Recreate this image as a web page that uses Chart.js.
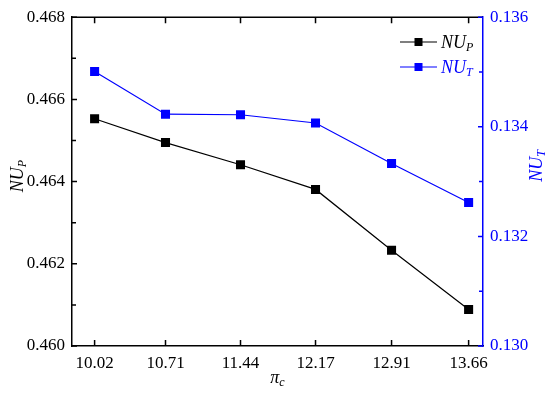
<!DOCTYPE html>
<html>
<head>
<meta charset="utf-8">
<script src="https://cdn.jsdelivr.net/npm/chart.js@4.4.0/dist/chart.umd.min.js"></script>
<style>
html, body { margin: 0; padding: 0; background: #fff; }
#wrap { width: 550px; height: 394px; }
</style>
</head>
<body>
<div id="wrap"><canvas id="nuChart"></canvas></div>
<script>
// values
const piC = [10.02, 10.71, 11.44, 12.17, 12.91, 13.66];
const piCLabels = ['10.02', '10.71', '11.44', '12.17', '12.91', '13.66'];
const nuP = [0.46553, 0.46495, 0.46441, 0.46381, 0.46233, 0.46089];
const nuT = [0.13501, 0.13423, 0.13422, 0.13407, 0.13333, 0.13262];
const nuPTicks = [0.460, 0.462, 0.464, 0.466, 0.468];
const nuTTicks = [0.130, 0.132, 0.134, 0.136];

const SERIF = "'Liberation Serif', 'Times New Roman', serif";
const BLUE = '#0000ff';

// text with a subscript, optionally rotated
function drawSub(ctx, main, sub, x, y, color, rotate) {
    ctx.save();
    ctx.translate(x, y);
    if (rotate) ctx.rotate(-Math.PI / 2);
    ctx.fillStyle = color;
    ctx.textBaseline = 'alphabetic';
    ctx.font = 'italic 18px ' + SERIF;
    const w1 = ctx.measureText(main).width;
    ctx.font = 'italic 12px ' + SERIF;
    const w2 = ctx.measureText(sub).width;
    const start = -(w1 + w2) / 2;
    ctx.font = 'italic 18px ' + SERIF;
    ctx.fillText(main, start, 6);
    ctx.font = 'italic 12px ' + SERIF;
    ctx.fillText(sub, start + w1, 9);
    ctx.restore();
}

const framePlugin = {
    id: 'frame',
    afterDraw(chart) {
        const ctx = chart.ctx;
        const a = chart.chartArea;
        const x = chart.scales.x, y = chart.scales.y, y1 = chart.scales.y1;
        ctx.save();
        ctx.lineWidth = 1.5;
        // top border
        ctx.strokeStyle = '#000';
        ctx.beginPath();
        ctx.moveTo(a.left, a.top);
        ctx.lineTo(a.right, a.top);
        ctx.stroke();
        // inward ticks
        ctx.beginPath();
        for (let i = 0; i <= 8; i++) {
            const py = y.getPixelForValue(0.460 + i * 0.001);
            ctx.moveTo(a.left, py);
            ctx.lineTo(a.left + (i % 2 ? 4 : 5), py);
        }
        piC.forEach(v => {
            const px = x.getPixelForValue(v);
            ctx.moveTo(px, a.bottom);
            ctx.lineTo(px, a.bottom - 6);
            ctx.moveTo(px, a.top);
            ctx.lineTo(px, a.top + 6);
        });
        ctx.stroke();
        ctx.strokeStyle = BLUE;
        ctx.beginPath();
        for (let i = 0; i <= 6; i++) {
            const py = y1.getPixelForValue(0.130 + i * 0.001);
            ctx.moveTo(a.right, py);
            ctx.lineTo(a.right - (i % 2 ? 4 : 5), py);
        }
        ctx.stroke();

        // axis titles
        drawSub(ctx, 'NU', 'P', 17, 176, '#000', true);
        drawSub(ctx, 'NU', 'T', 536, 166, BLUE, true);
        drawSub(ctx, '\u03c0', 'c', (a.left + a.right) / 2, 377, '#000', false);

        // legend
        const rows = [
            { sub: 'P', color: '#000', y: 42 },
            { sub: 'T', color: BLUE, y: 67 }
        ];
        rows.forEach(r => {
            ctx.strokeStyle = r.color;
            ctx.lineWidth = 1.2;
            ctx.beginPath();
            ctx.moveTo(400, r.y);
            ctx.lineTo(437, r.y);
            ctx.stroke();
            ctx.fillStyle = r.color;
            ctx.fillRect(414.5, r.y - 4, 8, 8);
            ctx.textBaseline = 'alphabetic';
            ctx.font = 'italic 18px ' + SERIF;
            ctx.fillText('NU', 441, r.y + 6);
            const w = ctx.measureText('NU').width;
            ctx.font = 'italic 12px ' + SERIF;
            ctx.fillText(r.sub, 441 + w, r.y + 9);
        });
        ctx.restore();
    }
};

function initializeChart() {
    const ctx = document.getElementById('nuChart').getContext('2d');
    const data = {
        datasets: [{
            label: 'NUP',
            data: piC.map((v, i) => ({ x: v, y: nuP[i] })),
            yAxisID: 'y',
            borderColor: '#000',
            backgroundColor: '#000',
            borderWidth: 1.2,
            pointStyle: 'rect',
            pointRadius: 6.4,
            pointBorderWidth: 0
        }, {
            label: 'NUT',
            data: piC.map((v, i) => ({ x: v, y: nuT[i] })),
            yAxisID: 'y1',
            borderColor: BLUE,
            backgroundColor: BLUE,
            borderWidth: 1.2,
            pointStyle: 'rect',
            pointRadius: 6.4,
            pointBorderWidth: 0
        }]
    };
    const tickFont = { family: SERIF, size: 17 };
    new Chart(ctx, {
        type: 'line',
        data: data,
        plugins: [framePlugin],
        options: {
            responsive: true,
            maintainAspectRatio: false,
            animation: false,
            layout: { padding: { top: 13, left: 0, right: 0, bottom: 0 } },
            plugins: {
                legend: { display: false },
                tooltip: { enabled: false }
            },
            scales: {
                x: {
                    type: 'linear',
                    min: 9.8,
                    max: 13.8,
                    afterBuildTicks: s => { s.ticks = piC.map(v => ({ value: v })); },
                    afterFit: s => { s.height = 48; },
                    grid: { display: false, drawTicks: false },
                    border: { display: true, color: '#000', width: 1.5 },
                    ticks: {
                        color: '#000',
                        font: tickFont,
                        padding: 7,
                        maxRotation: 0,
                        autoSkip: false,
                        callback: (v, i) => piCLabels[i]
                    }
                },
                y: {
                    position: 'left',
                    min: 0.460,
                    max: 0.468,
                    afterBuildTicks: s => { s.ticks = nuPTicks.map(v => ({ value: v })); },
                    afterFit: s => { s.width = 72; },
                    grid: { display: false, drawTicks: false },
                    border: { display: true, color: '#000', width: 1.5 },
                    ticks: {
                        color: '#000',
                        font: tickFont,
                        padding: 7,
                        callback: v => v.toFixed(3)
                    }
                },
                y1: {
                    position: 'right',
                    min: 0.130,
                    max: 0.136,
                    afterBuildTicks: s => { s.ticks = nuTTicks.map(v => ({ value: v })); },
                    afterFit: s => { s.width = 67; },
                    grid: { display: false, drawTicks: false },
                    border: { display: true, color: BLUE, width: 1.5 },
                    ticks: {
                        color: BLUE,
                        font: tickFont,
                        padding: 7,
                        callback: v => v.toFixed(3)
                    }
                }
            }
        }
    });
}

if (document.readyState === 'loading') {
    document.addEventListener('DOMContentLoaded', initializeChart);
} else {
    initializeChart();
}
</script>
</body>
</html>
